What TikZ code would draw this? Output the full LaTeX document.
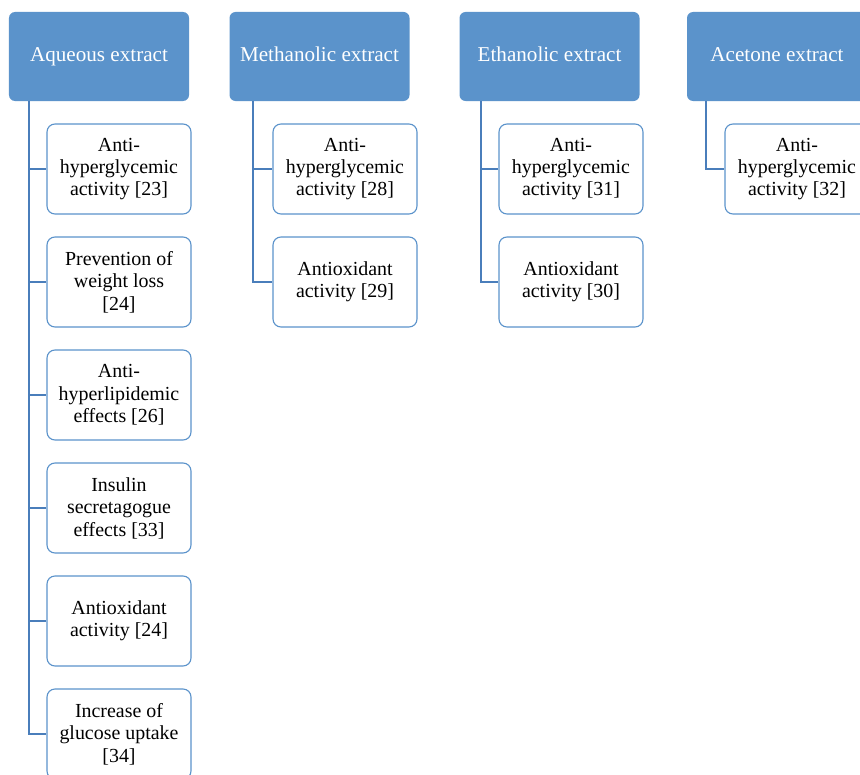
\documentclass[tikz,border=0pt]{standalone}
\usepackage{fontspec}
\setmainfont{Liberation Serif}
\definecolor{hdrblue}{RGB}{91,147,203}
\definecolor{lnblue}{RGB}{74,126,187}

\begin{document}
\begin{tikzpicture}[x=1bp,y=-1bp,
	hdr/.style={fill=hdrblue,rounded corners=6bp,minimum width=180bp,minimum height=89bp,inner sep=0pt,text=white,text height=14pt,text depth=4pt,font=\fontsize{21.2}{23}\selectfont},
	item/.style={draw=hdrblue,line width=1.1bp,fill=white,rounded corners=8bp,minimum width=144bp,minimum height=90bp,inner sep=0pt,align=center,font=\fontsize{20}{22.5}\selectfont},
	link/.style={draw=lnblue,line width=1.8bp}]
	\useasboundingbox (0,0) rectangle (860,775);
	\clip (0,0) rectangle (860,775);
	% headers
	\node[hdr] (aq) at (99,56.5) {Aqueous extract};
	\node[hdr] (me) at (319.5,56.5) {Methanolic extract};
	\node[hdr] (et) at (549.5,56.5) {Ethanolic extract};
	\node[hdr] (ac) at (777,56.5) {Acetone extract};
	\coordinate (aqT) at ([xshift=20bp]aq.south west);
	\coordinate (meT) at ([xshift=24bp]me.south west);
	\coordinate (etT) at ([xshift=22bp]et.south west);
	\coordinate (acT) at ([xshift=19bp]ac.south west);
	% aqueous extract
	\foreach \i/\txt in {1/{Anti-\\hyperglycemic\\activity [23]},
		2/{Prevention of\\weight loss\\{[24]}},
		3/{Anti-\\hyperlipidemic\\effects [26]},
		4/{Insulin\\secretagogue\\effects [33]},
		5/{Antioxidant\\activity [24]},
		6/{Increase of\\glucose uptake\\{[34]}}}{
		\node[item] (aq\i) at (119,{56+113*\i}) {\txt};
		\draw[link] (aqT) |- (aq\i.west);
	}
	% methanolic extract
	\node[item] (me1) at (345,169) {Anti-\\hyperglycemic\\activity [28]};
	\node[item] (me2) at (345,282) {Antioxidant\\activity [29]};
	\draw[link] (meT) |- (me1.west);
	\draw[link] (meT) |- (me2.west);
	% ethanolic extract
	\node[item] (et1) at (571,169) {Anti-\\hyperglycemic\\activity [31]};
	\node[item] (et2) at (571,282) {Antioxidant\\activity [30]};
	\draw[link] (etT) |- (et1.west);
	\draw[link] (etT) |- (et2.west);
	% acetone extract
	\node[item] (ac1) at (797,169) {Anti-\\hyperglycemic\\activity [32]};
	\draw[link] (acT) |- (ac1.west);
\end{tikzpicture}
\end{document}
